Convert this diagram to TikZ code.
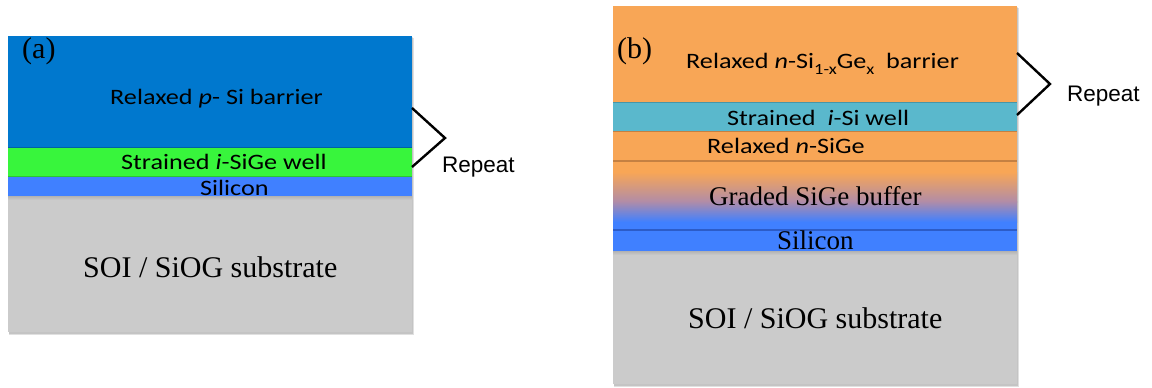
\documentclass[tikz,border=0pt]{standalone}
\usepackage{fontspec}
\setmainfont{Liberation Serif}
\newfontfamily\calfont[FakeStretch=1.19]{Carlito}
\newfontfamily\arialfont{Liberation Sans}

\definecolor{barrierblue}{RGB}{0,120,206}
\definecolor{wellgreen}{RGB}{56,245,60}
\definecolor{siblue}{RGB}{64,128,255}
\definecolor{substgray}{RGB}{203,203,203}
\definecolor{sigeorange}{RGB}{248,166,86}
\definecolor{wellcyan}{RGB}{90,184,204}
\definecolor{gradmauve}{RGB}{176,140,168}
\definecolor{edgeorange}{RGB}{196,128,66}
\definecolor{edgeblue}{RGB}{44,92,200}
\definecolor{edgecyan}{RGB}{70,150,168}

\tikzset{
  layertext/.style={inner sep=0pt, anchor=base west, font=\calfont\fontsize{22}{26}\selectfont},
  seriftext/.style={inner sep=0pt, anchor=base west, font=\fontsize{27}{32}\selectfont},
  bigserif/.style={inner sep=0pt, anchor=base west, font=\fontsize{30}{36}\selectfont},
  repeattext/.style={inner sep=0pt, anchor=base west, font=\arialfont\fontsize{22.5}{27}\selectfont},
  bracket/.style={line width=2.4pt, line join=miter, black},
  panelshadow/.style={fill=black, opacity=0.12}
}
\newcommand{\lowidx}[1]{\raisebox{-6.5pt}{\fontsize{15.5}{18}\selectfont #1}}

\begin{document}
\begin{tikzpicture}[x=1pt,y=-1pt]
\useasboundingbox (0,0) rectangle (1152,388);
\fill[white] (0,0) rectangle (1152,388);

% ---------- stack (a) ----------
\fill[panelshadow] (9,37.5) rectangle (414,334.5);
\fill[panelshadow] (9,37) rectangle (413,333.5);
\fill[barrierblue] (8,36) rectangle (412,147);
\fill[wellgreen]   (8,147) rectangle (412,176);
\fill[siblue]      (8,176) rectangle (412,196);
\fill[substgray]   (8,196) rectangle (412,332);
\shade[top color=black!30, bottom color=substgray] (8,196) rectangle (412,200);
\draw[barrierblue!80!black, line width=0.6pt] (8,147) -- (412,147);
\draw[wellgreen!80!black, line width=0.6pt] (8,176) -- (412,176);

\node[bigserif]  (labA)   at (22,58)  {(a)};
\node[layertext] (barA)   at (110,104) {Relaxed \textit{p}- Si barrier};
\node[layertext] (wellA)  at (121,169) {Strained \textit{i}-SiGe well};
\node[layertext] (siA)    at (200,195) {Silicon};
\node[bigserif]  (subA)   at (83,277)  {SOI / SiOG substrate};

\coordinate (brA1) at (412,108);
\coordinate (brA2) at (445,138);
\coordinate (brA3) at (412,167);
\draw[bracket] (brA1) -- (brA2) -- (brA3);
\node[repeattext] (repA) at (442,172.5) {Repeat};

% ---------- stack (b) ----------
\fill[panelshadow] (614,7.5) rectangle (1019,386.5);
\fill[panelshadow] (614,7) rectangle (1018,385.5);
\fill[sigeorange] (613,6) rectangle (1017,102);
\fill[wellcyan]   (613,102) rectangle (1017,131);
\fill[sigeorange] (613,131) rectangle (1017,161);
% graded buffer: orange -> mauve -> blue
\fill[sigeorange] (613,161) rectangle (1017,172);
\shade[top color=sigeorange, bottom color=gradmauve] (613,172) rectangle (1017,202);
\shade[top color=gradmauve, bottom color=siblue] (613,201.5) rectangle (1017,222);
\fill[siblue]     (613,222) rectangle (1017,230);
\fill[siblue]     (613,230) rectangle (1017,251);
\fill[substgray]  (613,251) rectangle (1017,384);
\shade[top color=black!30, bottom color=substgray] (613,251) rectangle (1017,255);
\draw[edgecyan, line width=0.8pt]   (613,102) -- (1017,102);
\draw[edgeorange, line width=1pt]   (613,131) -- (1017,131);
\draw[edgeorange, line width=1.2pt] (613,161) -- (1017,161);
\draw[edgeblue, line width=1.5pt]   (613,230) -- (1017,230);

\node[bigserif]  (labB)   at (617,58)  {(b)};
\node[layertext] (barB)   at (686,68)
  {Relaxed \textit{n}-Si\lowidx{1-x}Ge\lowidx{x}\ \ barrier};
\node[layertext] (wellB)  at (727,125) {Strained\ \ \textit{i}-Si well};
\node[layertext] (relB)   at (707,153) {Relaxed \textit{n}-SiGe};
\node[seriftext] (gradB)  at (709,205) {Graded SiGe buffer};
\node[seriftext] (siB)    at (777,249) {Silicon};
\node[bigserif]  (subB)   at (688,328) {SOI / SiOG substrate};

\coordinate (brB1) at (1017,53);
\coordinate (brB2) at (1050,84);
\coordinate (brB3) at (1017,115);
\draw[bracket] (brB1) -- (brB2) -- (brB3);
\node[repeattext] (repB) at (1067,101.5) {Repeat};
\end{tikzpicture}
\end{document}
